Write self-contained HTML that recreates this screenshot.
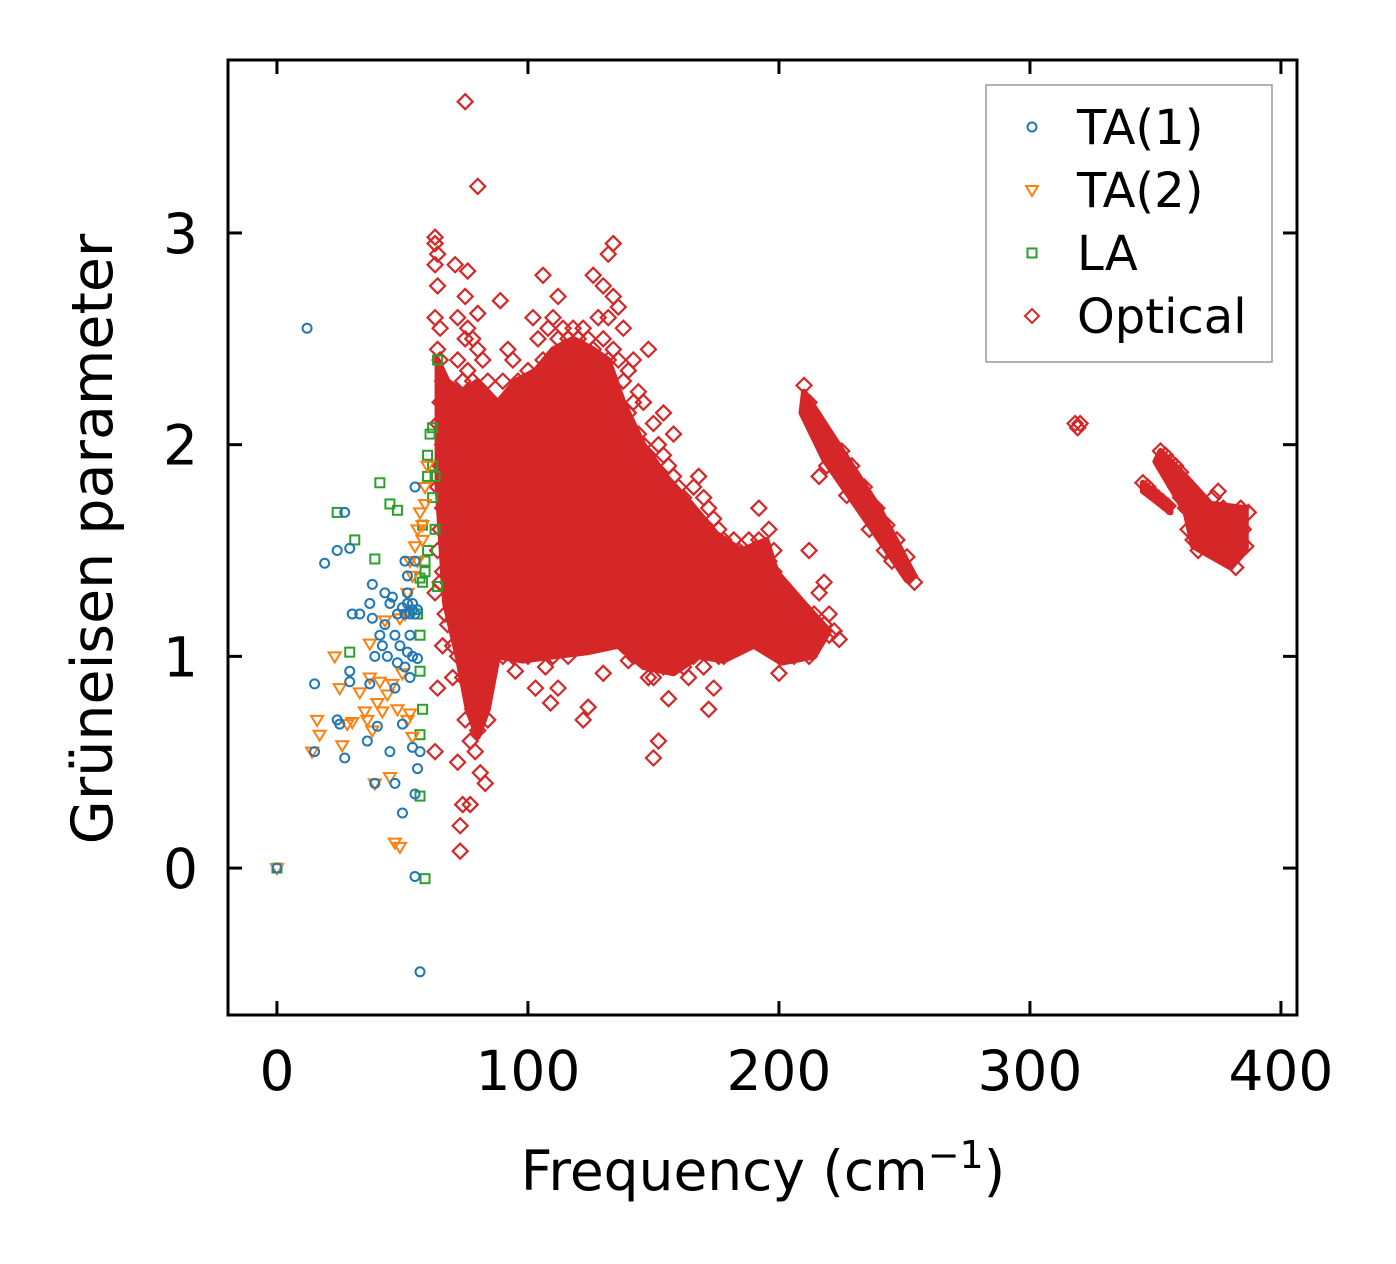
<!DOCTYPE html>
<html><head><meta charset="utf-8">
<style>
html,body{margin:0;padding:0;background:#fff;}
svg{display:block;font-family:"DejaVu Sans","Liberation Sans",sans-serif;}
</style></head>
<body>
<svg id="chart" width="1396" height="1264" viewBox="0 0 1396 1264" xmlns="http://www.w3.org/2000/svg">
<rect x="0" y="0" width="1396" height="1264" fill="#fff"/>
<g id="density"></g>
<g id="marks"></g>
<rect x="228" y="60" width="1069" height="955" fill="none" stroke="#000" stroke-width="3"/>
<g id="axes"></g>
<text x="763" y="1190" font-size="55" text-anchor="middle">Frequency (cm<tspan dy="-22" font-size="38">−1</tspan><tspan dy="22">)</tspan></text>
<text transform="translate(112,539) rotate(-90)" font-size="57" text-anchor="middle">Grüneisen parameter</text>
<g>
<rect x="986" y="85" width="286" height="277" fill="#fff" stroke="#999" stroke-width="1.5"/>
<circle cx="1032" cy="127" r="4.5" fill="none" stroke="#1f77b4" stroke-width="2"/>
<text x="1077" y="144" font-size="48">TA(1)</text>
<path d="M1026,186 L1038,186 L1032,196 Z" fill="none" stroke="#ff7f0e" stroke-width="2"/>
<text x="1077" y="207" font-size="48">TA(2)</text>
<rect x="1027.5" y="248.5" width="9" height="9" fill="none" stroke="#2ca02c" stroke-width="2"/>
<text x="1077" y="270" font-size="48">LA</text>
<path d="M1032,309 L1039,316 L1032,323 L1025,316 Z" fill="none" stroke="#d62728" stroke-width="2"/>
<text x="1077" y="333" font-size="48">Optical</text>
</g>
<script>
const xTicks = [0,100,200,300,400];
const yTicks = [0,1,2,3];
const ta1Freq = [0,12,15,15,19,24,24,25,27,27,29,29,29,30,33,36,37,37,38,38,39,39,40,41,42,43,43,44,45,45,46,47,47,47,48,48,49,50,50,51,51,51,52,52,52,53,53,53,54,54,54,55,55,55,55,56,56,56,57,57,54,55,52,50];
const ta1Gamma = [0,2.55,0.87,0.55,1.44,1.5,0.7,0.68,1.68,0.52,1.51,0.93,0.88,1.2,1.2,0.6,0.87,1.25,1.34,1.18,1.0,0.4,0.67,1.1,1.05,1.3,1.15,1.0,0.55,1.25,1.28,1.1,0.85,0.4,1.2,0.97,1.05,0.68,0.26,1.45,1.2,0.95,1.38,1.3,1.25,1.2,1.1,0.9,0.57,1.0,1.25,1.8,1.45,0.35,-0.04,0.47,0.99,1.22,-0.49,0.55,1.22,1.2,1.02,1.23];
const ta2Freq = [0,14,16,17,23,25,26,28,30,33,35,36,37,37,38,39,40,41,42,43,44,45,46,47,48,49,49,50,51,52,53,53,54,55,56,56,57,58,58,59,59,60,54,52];
const ta2Gamma = [0,0.55,0.7,0.63,1.0,0.85,0.58,0.68,0.69,0.83,0.74,0.7,1.06,0.9,0.65,0.4,0.78,0.88,0.74,1.17,0.82,0.43,0.87,0.12,0.75,1.18,0.1,0.92,1.2,1.3,1.45,0.73,0.62,1.52,1.6,1.45,1.68,1.55,1.62,1.72,1.8,1.9,1.38,0.7];
const laFreq = [0,24,29,31,39,41,45,48,56,57,57,57,57,58,59,58,59,59,60,60,60,61,62,62,62,63,63,64,64,58,57];
const laGamma = [0,1.68,1.02,1.55,1.46,1.82,1.72,1.69,1.2,1.1,0.93,0.63,0.34,0.75,-0.05,1.35,1.4,1.45,1.5,1.85,1.95,2.05,2.08,1.9,1.75,1.6,1.85,2.4,1.33,1.62,1.37];
const opticalPairs = [63,2.98,63,2.95,64,2.9,63,2.85,64,2.75,63,2.6,65,2.55,64,2.45,65,2.4,66,2.3,65,2.2,64,2.1,66,2.0,65,1.9,64,1.8,66,1.7,65,1.6,64,1.5,66,1.4,65,1.35,63,1.3,64,0.85,63,0.55,66,1.05,67,1.2,68,2.15,68,1.95,68,1.75,68,1.55,68,1.35,68,1.15,70,2.25,70,2.05,70,1.85,70,1.65,70,1.45,70,1.25,70,1.05,70,0.9,71,2.85,72,2.6,72,2.4,72,2.2,72,2.0,72,1.8,72,1.6,72,1.4,72,1.2,72,1.0,72,0.5,73,0.2,73,0.08,74,0.3,75,2.7,75,2.5,74,2.3,74,2.1,74,1.9,74,1.7,74,1.5,74,1.3,74,1.1,74,0.9,75,0.7,75,3.62,76,2.82,76,2.55,76,2.35,76,2.15,76,1.95,76,1.75,76,1.55,76,1.35,76,1.15,76,0.95,77,0.6,77,0.3,78,2.5,78,2.3,78,2.1,78,1.9,78,1.7,78,1.5,78,1.3,78,1.1,78,0.9,78,0.75,79,0.55,80,3.22,80,2.62,80,2.45,80,2.25,80,2.05,80,1.85,80,1.65,80,1.45,80,1.25,80,1.05,80,0.85,80,0.65,81,0.45,82,2.4,82,2.2,82,2.0,82,1.8,82,1.6,82,1.4,82,1.2,82,1.0,82,0.8,83,0.4,84,2.3,84,2.1,84,1.9,84,1.7,84,1.5,84,1.3,84,1.1,84,0.9,84,0.7,86,2.2,86,2.0,86,1.8,86,1.6,86,1.4,86,1.2,86,1.0,88,2.1,88,1.9,88,1.7,88,1.5,88,1.3,88,1.1,89,2.68,90,2.3,90,2.0,90,1.8,90,1.6,90,1.4,90,1.2,90,1.0,92,2.45,92,2.2,92,1.5,92,1.3,92,1.1,94,2.4,94,2.1,94,1.7,94,1.45,94,1.25,94,1.0,95,0.93,96,2.3,96,1.9,96,1.6,96,1.4,96,1.2,98,2.2,98,1.8,98,1.5,98,1.3,98,1.1,100,2.35,100,2.0,100,1.7,100,1.5,100,1.3,100,1.0,102,2.6,102,1.9,102,1.6,102,1.4,102,1.2,103,0.85,104,2.5,104,2.2,104,2.0,104,1.8,104,1.55,104,1.35,104,1.15,106,2.8,106,2.4,106,2.1,106,1.9,106,1.7,106,1.5,106,1.3,106,1.1,107,0.95,108,2.55,108,2.3,108,2.1,108,1.9,108,1.7,108,1.5,108,1.3,108,1.1,109,0.78,110,2.6,110,2.4,110,2.2,110,2.0,110,1.8,110,1.6,110,1.4,110,1.2,110,1.0,112,2.7,112,2.5,112,2.3,112,2.1,112,1.9,112,1.7,112,1.5,112,1.3,112,1.1,112,0.85,114,2.55,114,2.35,114,2.15,114,1.95,114,1.75,114,1.55,114,1.35,114,1.15,116,2.5,116,2.3,116,2.1,116,1.9,116,1.7,116,1.5,116,1.3,116,1.1,116,1.0,118,2.55,118,2.35,118,2.15,118,1.95,118,1.75,118,1.55,118,1.35,118,1.05,120,2.5,120,2.3,120,2.1,120,1.9,120,1.7,120,1.5,120,1.3,120,1.1,122,2.55,122,2.35,122,2.15,122,1.95,122,1.75,122,1.55,122,1.35,122,0.7,124,2.5,124,2.3,124,2.1,124,1.9,124,1.7,124,1.5,124,1.2,124,0.76,126,2.8,126,2.45,126,2.25,126,2.05,126,1.85,126,1.65,126,1.45,126,1.25,128,2.6,128,2.4,128,2.2,128,2.0,128,1.8,128,1.6,128,1.4,128,1.1,130,2.75,130,2.5,130,2.3,130,2.1,130,1.9,130,1.7,130,1.5,130,1.3,130,0.92,132,2.9,132,2.6,132,2.4,132,2.2,132,2.0,132,1.8,132,1.6,132,1.35,134,2.95,134,2.7,134,2.45,134,2.25,134,2.05,134,1.85,134,1.65,134,1.45,134,1.2,136,2.65,136,2.4,136,2.2,136,2.0,136,1.8,136,1.6,136,1.4,136,1.15,138,2.55,138,2.3,138,2.1,138,1.9,138,1.7,138,1.5,138,1.3,138,1.05,140,2.35,140,2.15,140,1.95,140,1.75,140,1.55,140,1.35,140,1.15,140,0.98,142,2.4,142,2.2,142,2.0,142,1.8,142,1.6,142,1.4,142,1.2,142,1.0,144,2.25,144,2.05,144,1.85,144,1.65,144,1.45,144,1.25,144,1.05,146,2.2,146,2.0,146,1.8,146,1.6,146,1.4,146,1.2,146,1.0,148,2.45,148,1.95,148,1.75,148,1.55,148,1.35,148,1.15,148,0.9,150,2.1,150,1.9,150,1.7,150,1.5,150,1.3,150,1.1,150,0.9,150,0.52,152,2.0,152,1.8,152,1.6,152,1.4,152,1.2,152,1.0,152,0.6,154,2.15,154,1.95,154,1.75,154,1.55,154,1.35,154,1.15,154,0.95,156,1.9,156,1.7,156,1.5,156,1.3,156,1.1,156,0.8,158,2.05,158,1.85,158,1.65,158,1.45,158,1.25,158,1.05,160,1.8,160,1.6,160,1.4,160,1.2,160,1.0,162,1.75,162,1.55,162,1.35,162,1.15,162,0.95,164,1.7,164,1.5,164,1.3,164,1.1,164,0.9,166,1.8,166,1.6,166,1.4,166,1.2,166,1.0,168,1.85,168,1.65,168,1.45,168,1.25,168,1.05,170,1.75,170,1.55,170,1.35,170,1.15,170,0.95,172,1.7,172,1.5,172,1.3,172,1.1,172,0.75,174,1.65,174,1.45,174,1.25,174,1.05,174,0.85,176,1.6,176,1.4,176,1.2,176,1.0,178,1.55,178,1.35,178,1.15,178,1.0,180,1.5,180,1.3,180,1.1,182,1.55,182,1.4,182,1.2,184,1.5,184,1.35,184,1.15,186,1.45,186,1.3,186,1.1,188,1.55,188,1.4,188,1.25,190,1.5,190,1.35,190,1.2,192,1.7,192,1.55,192,1.4,192,1.25,194,1.5,194,1.35,196,1.6,196,1.45,196,1.3,198,1.5,198,1.4,200,0.92,200,1.0,202,1.1,204,1.05,204,1.2,206,1.15,206,1.0,208,1.25,208,1.1,210,1.2,210,1.05,212,1.15,212,1.0,214,1.2,214,1.08,216,1.3,216,1.1,218,1.35,218,1.15,220,1.2,220,1.1,222,1.12,224,1.08,212,1.5,210,2.28,212,2.2,213,2.15,214,2.1,216,2.05,218,2.0,220,2.02,221,1.95,223,1.92,224,1.88,226,1.85,228,1.82,230,1.78,232,1.75,233,1.72,235,1.7,237,1.66,238,1.62,240,1.6,242,1.56,244,1.52,246,1.48,248,1.45,250,1.42,252,1.38,254,1.35,219,1.9,225,1.97,229,1.9,234,1.8,239,1.7,243,1.62,247,1.55,251,1.47,216,1.85,227,1.76,236,1.6,245,1.45,242,1.5,318,2.1,319,2.08,320,2.1,345,1.82,347,1.8,349,1.77,351,1.75,353,1.73,355,1.71,352,1.97,354,1.95,356,1.92,358,1.9,360,1.87,362,1.82,364,1.78,366,1.72,368,1.68,370,1.65,372,1.6,374,1.57,376,1.52,378,1.48,380,1.45,382,1.42,363,1.6,365,1.55,367,1.5,369,1.55,371,1.7,373,1.75,375,1.78,377,1.7,379,1.65,381,1.6,383,1.55,385,1.6,387,1.68,384,1.7,386,1.52,380,1.55,376,1.62,372,1.52,368,1.58,364,1.68,360,1.75,358,1.8,362,1.7,366,1.62,370,1.58,374,1.66,378,1.58,382,1.5];
const denseMain = [64,2.4,68,2.3,74,2.25,80,2.3,88,2.2,95,2.3,103,2.35,110,2.45,118,2.5,126,2.45,132,2.4,138,2.2,146,2.0,155,1.85,165,1.72,175,1.58,185,1.5,195,1.55,199,1.4,210,1.25,220,1.12,214,1.0,201,0.97,190,1.05,178,0.98,168,1.0,158,0.92,146,0.95,136,1.05,124,1.02,110,1.0,98,0.98,88,1.0,84,0.75,80,0.62,76,0.75,72,1.0,67,1.25,64,1.8];
const denseDiagonal = [210,2.25,222,2.03,240,1.7,254,1.38,251,1.36,236,1.62,218,1.93,209,2.15];
const denseRight = [352,1.97,362,1.85,372,1.72,386,1.7,386,1.5,380,1.42,365,1.52,362,1.68,350,1.92];
const denseRightArm = [345,1.82,356,1.72,356,1.68,345,1.78];

const NS = "http://www.w3.org/2000/svg";
const X0 = 228, X1 = 1297, Y0 = 60, Y1 = 1015;
const xMin = -19.5, xMax = 406.4, yMin = -0.694, yMax = 3.817;
function sx(v){ return X0 + (v - xMin) / (xMax - xMin) * (X1 - X0); }
function sy(v){ return Y1 - (v - yMin) / (yMax - yMin) * (Y1 - Y0); }
const marks = document.getElementById('marks');
const axes = document.getElementById('axes');
const dens = document.getElementById('density');
function mk(tag, attrs, parent){ const e = document.createElementNS(NS, tag); for (const k in attrs) e.setAttribute(k, attrs[k]); parent.appendChild(e); return e; }

function hull(arr, name){
  let d = '';
  for (let i = 0; i < arr.length; i += 2) d += (i ? 'L' : 'M') + sx(arr[i]).toFixed(1) + ',' + sy(arr[i+1]).toFixed(1);
  const p = mk('path', {d: d + 'Z', fill: '#d62728', stroke: '#d62728', 'stroke-width': 6, 'stroke-linejoin': 'round'}, dens);
  
  
}
hull(denseMain, 'optical-dense-main');
hull(denseDiagonal, 'optical-dense-diagonal');
hull(denseRight, 'optical-dense-right');
hull(denseRightArm, 'optical-dense-right-arm');

for (let i = 0; i < opticalPairs.length; i += 2) {
  const cx = sx(opticalPairs[i]), cy = sy(opticalPairs[i+1]);
  const p = mk('path', {d: `M${cx},${cy-7.5}L${cx+7.5},${cy}L${cx},${cy+7.5}L${cx-7.5},${cy}Z`, fill: 'none', stroke: '#d62728', 'stroke-width': 2.2}, marks);
  
  
}
for (let i = 0; i < laFreq.length; i++) {
  const cx = sx(laFreq[i]), cy = sy(laGamma[i]);
  const r = mk('rect', {x: cx-4.5, y: cy-4.5, width: 9, height: 9, fill: 'none', stroke: '#2ca02c', 'stroke-width': 2}, marks);
  
  
}
for (let i = 0; i < ta2Freq.length; i++) {
  const cx = sx(ta2Freq[i]), cy = sy(ta2Gamma[i]);
  const p = mk('path', {d: `M${cx-6},${cy-4}L${cx+6},${cy-4}L${cx},${cy+6}Z`, fill: 'none', stroke: '#ff7f0e', 'stroke-width': 2}, marks);
  
  
}
for (let i = 0; i < ta1Freq.length; i++) {
  const c = mk('circle', {cx: sx(ta1Freq[i]), cy: sy(ta1Gamma[i]), r: 4.5, fill: 'none', stroke: '#1f77b4', 'stroke-width': 2}, marks);
  
  
}
xTicks.forEach(v => {
  const x = sx(v);
  const t1 = mk('line', {x1: x, x2: x, y1: Y1, y2: Y1-14, stroke: '#000', 'stroke-width': 3}, axes);
  
  
  const t2 = mk('line', {x1: x, x2: x, y1: Y0, y2: Y0+14, stroke: '#000', 'stroke-width': 3}, axes);
  
  
  const l = mk('text', {x: x, y: 1090, 'font-size': 55, 'text-anchor': 'middle'}, axes);
  l.textContent = v;
  
  
});
yTicks.forEach(v => {
  const y = sy(v);
  const t1 = mk('line', {x1: X0, x2: X0+14, y1: y, y2: y, stroke: '#000', 'stroke-width': 3}, axes);
  
  
  const t2 = mk('line', {x1: X1, x2: X1-14, y1: y, y2: y, stroke: '#000', 'stroke-width': 3}, axes);
  
  
  const l = mk('text', {x: 198, y: y + 20, 'font-size': 55, 'text-anchor': 'end'}, axes);
  l.textContent = v;
  
  
});
</script>
</svg>
</body></html>
